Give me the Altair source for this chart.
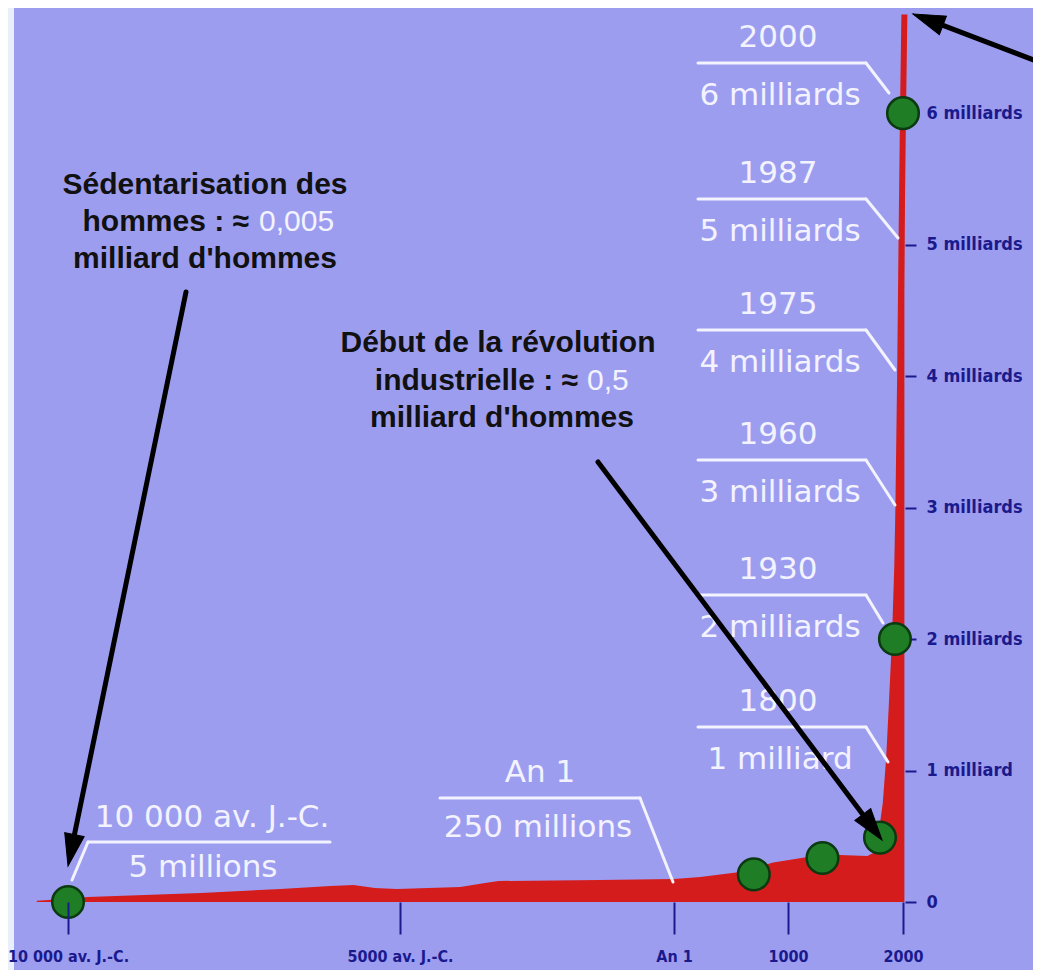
import math
import altair as alt
import pandas as pd

# ---------------- data ----------------
years = [-10470, -10000, -9700, -8000, -6800, -6050, -5700, -5380, -5050, -3900,
         -3450, -3200, -1350, 0, 230, 580, 870, 1170, 1450, 1690, 1760, 1800,
         1820, 1850, 1880, 1900, 1930, 1950, 1960, 1975, 1987, 2000, 2012]
population = [0.01, 0.025, 0.038, 0.068, 0.099, 0.122, 0.129, 0.106, 0.099, 0.114,
              0.144, 0.16, 0.167, 0.175, 0.19, 0.228, 0.30, 0.342, 0.357, 0.35, 0.38, 0.49,
              0.56, 0.75, 1.1, 1.45, 2.0, 2.55, 3.0, 4.0, 5.0, 6.0, 6.75]
spike_from = 1800

dot_years = [-10000, 700, 1300, 1800, 1930, 2000]
dot_values = [0.0, 0.21, 0.335, 0.49, 2.0, 6.0]

x_tick_values = [-10000, -5000, 0, 1000, 2000]
x_tick_labels = ["10 000 av. J.-C.", "5000 av. J.-C.", "An 1", "1000", "2000"]
y_tick_values = [0, 1, 2, 3, 4, 5, 6]
y_tick_labels = ["0", "1 milliard", "2 milliards", "3 milliards", "4 milliards",
                 "5 milliards", "6 milliards"]

milestone_years = ["2000", "1987", "1975", "1960", "1930", "1800"]
milestone_labels = ["6 milliards", "5 milliards", "4 milliards", "3 milliards",
                    "2 milliards", "1 milliard"]
early_years = ["10 000 av. J.-C.", "An 1"]
early_labels = ["5 millions", "250 millions"]

note1 = ["Sédentarisation des", "hommes : ≈", "0,005", "milliard d'hommes"]
note2 = ["Début de la révolution", "industrielle : ≈", "0,5", "milliard d'hommes"]

# ---------------- layout / style ----------------
OX, OY = 14, 8                 # page position of plot origin
PLOT_W, PLOT_H = 891, 894
SVG_W, SVG_H = 1025, 962
X_RANGE_PAGE = [68, 400, 674, 788, 903]
BG = "#9d9df0"
RED = "#d41c1c"
GREEN = "#1f7d26"
GREEN_EDGE = "#0c3a10"
NAVY = "#1a1a8c"
WHITE = "#f3f3ff"
AX_FONT = "DejaVu Sans Condensed, DejaVu Sans"
W_FONT = "DejaVu Sans"
B_FONT = "Liberation Sans, Arial"

one = alt.Data(values=[{}])


def px(x):
    return x - OX


def py(y):
    return y - OY


def label_expr(values, labels):
    expr = "''"
    for v, l in reversed(list(zip(values, labels))):
        expr = f"datum.value == {v} ? '{l}' : ({expr})"
    return expr


def text(s, x, y, color, size, font, weight="normal", align="center"):
    return alt.Chart(one).mark_text(
        text=s, color=color, fontSize=size, font=font, fontWeight=weight,
        align=align, baseline="middle"
    ).encode(x=alt.value(px(x)), y=alt.value(py(y)))


def seg(x1, y1, x2, y2, color, width):
    return alt.Chart(one).mark_rule(color=color, strokeWidth=width, strokeCap="round").encode(
        x=alt.value(px(x1)), y=alt.value(py(y1)), x2=alt.value(px(x2)), y2=alt.value(py(y2))
    )


ARROW_PATH = "M0,-1L0.62,1L-0.62,1Z"


def arrow(x0, y0, x1, y1, head=32, width=5):
    dx, dy = x1 - x0, y1 - y0
    L = math.hypot(dx, dy)
    ux, uy = dx / L, dy / L
    ang = math.degrees(math.atan2(ux, -uy)) % 360
    cx, cy = x1 - ux * head / 2, y1 - uy * head / 2
    line = seg(x0, y0, cx, cy, "black", width)
    tip = alt.Chart(one).mark_point(
        shape=ARROW_PATH, filled=True, fill="black", stroke="black", strokeWidth=1,
        size=head * head, angle=ang, opacity=1
    ).encode(x=alt.value(px(cx)), y=alt.value(py(cy)))
    return [line, tip]


# ---------------- data marks ----------------
df = pd.DataFrame({"year": years, "pop": population})
df_spike = df[df["year"] >= spike_from]
df_dots = pd.DataFrame({"year": dot_years, "pop": dot_values})

x_scale = alt.Scale(domain=x_tick_values, range=[px(v) for v in X_RANGE_PAGE],
                    nice=False, zero=False)
y_scale = alt.Scale(domain=[0, 6.8], nice=False, zero=False)

x_axis = alt.Axis(values=x_tick_values, labelExpr=label_expr(x_tick_values, x_tick_labels),
                  domain=False, grid=False, ticks=True, tickSize=32, tickWidth=2,
                  tickColor=NAVY, labelColor=NAVY, labelFont=AX_FONT, labelFontSize=16,
                  labelFontWeight="bold", labelPadding=14, labelOverlap=False,
                  labelFlush=False, title=None, zindex=1)
y_axis = alt.Axis(orient="right", values=y_tick_values,
                  labelExpr=label_expr(y_tick_values, y_tick_labels),
                  domain=False, grid=False, tickSize=11, tickWidth=2, tickColor=NAVY,
                  labelColor=NAVY, labelFont=AX_FONT, labelFontSize=18,
                  labelFontWeight="bold", labelPadding=10, title=None)

area = alt.Chart(df).mark_area(color=RED, opacity=1, interpolate="linear").encode(
    x=alt.X("year:Q", scale=x_scale, axis=x_axis),
    y=alt.Y("pop:Q", scale=y_scale, axis=y_axis),
)
spike = alt.Chart(df_spike).mark_line(color=RED, strokeWidth=6).encode(
    x=alt.X("year:Q", scale=x_scale), y=alt.Y("pop:Q", scale=y_scale)
)
dots = alt.Chart(df_dots).mark_point(
    shape="circle", filled=True, fill=GREEN, stroke=GREEN_EDGE, strokeWidth=2.5,
    size=1000, opacity=1
).encode(x=alt.X("year:Q", scale=x_scale), y=alt.Y("pop:Q", scale=y_scale))

# ---------------- annotations ----------------
layers = [
    alt.Chart(one).mark_rect(color="#e8f0fa").encode(
        x=alt.value(-6), x2=alt.value(0), y=alt.value(-8), y2=alt.value(990)),
    area, spike,
]

right_line_y = [63, 199, 330, 460, 595, 727]
right_diag_end = [(889, 93), (898, 238), (895, 370), (895, 505), (883, 623), (888, 762)]
for yr, lab, ly, (ex, ey) in zip(milestone_years, milestone_labels, right_line_y, right_diag_end):
    layers.append(seg(698, ly, 866, ly, WHITE, 3))
    layers.append(seg(866, ly, ex, ey, WHITE, 3))
    layers.append(text(yr, 778, ly - 25, WHITE, 31, W_FONT))
    layers.append(text(lab, 780, ly + 33, WHITE, 31, W_FONT))

# 10 000 av. J.-C.
layers.append(seg(88, 842, 330, 842, WHITE, 3))
layers.append(seg(88, 842, 72, 880, WHITE, 3))
layers.append(text(early_years[0], 212, 818, WHITE, 31, W_FONT))
layers.append(text(early_labels[0], 203, 868, WHITE, 31, W_FONT))
# An 1
layers.append(seg(440, 798, 640, 798, WHITE, 3))
layers.append(seg(640, 798, 673, 882, WHITE, 3))
layers.append(text(early_years[1], 540, 773, WHITE, 31, W_FONT))
layers.append(text(early_labels[1], 538, 828, WHITE, 31, W_FONT))

layers.append(dots)

# black notes
layers.append(text(note1[0], 205, 185, "#111111", 30, B_FONT, "bold"))
layers.append(text(note1[1], 249, 222, "#111111", 30, B_FONT, "bold", "right"))
layers.append(text(note1[2], 259, 222, WHITE, 30, B_FONT, "normal", "left"))
layers.append(text(note1[3], 205, 259, "#111111", 30, B_FONT, "bold"))

layers.append(text(note2[0], 498, 343, "#111111", 30, B_FONT, "bold"))
layers.append(text(note2[1], 578, 381, "#111111", 30, B_FONT, "bold", "right"))
layers.append(text(note2[2], 587, 381, WHITE, 30, B_FONT, "normal", "left"))
layers.append(text(note2[3], 502, 418, "#111111", 30, B_FONT, "bold"))

layers += arrow(186, 292, 68, 866)
layers += arrow(598, 462, 882, 840)
layers += arrow(1060, 70, 913, 14)

chart = alt.layer(*layers).properties(
    width=PLOT_W, height=PLOT_H,
    padding={"left": OX - 8, "top": 0, "right": SVG_W - PLOT_W - (OX - 8),
             "bottom": SVG_H - PLOT_H},
    autosize=alt.AutoSizeParams(type="none"),
    background=BG,
).configure_view(strokeWidth=0)

chart.save("out.html", embed_options={"renderer": "svg", "actions": False})
